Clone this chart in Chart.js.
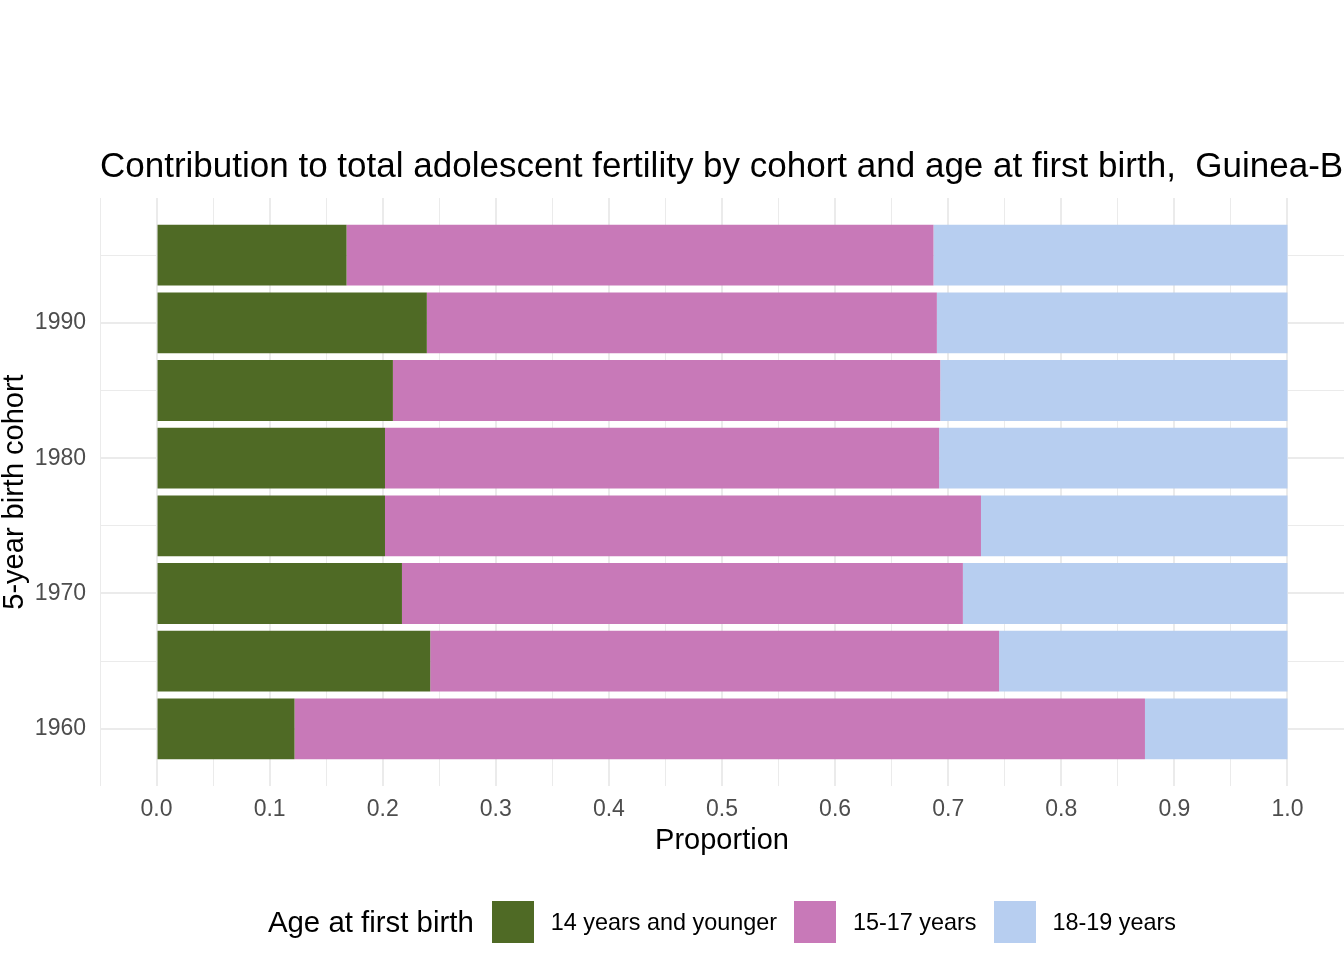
<!DOCTYPE html>
<html>
<head>
<meta charset="utf-8">
<title>Adolescent fertility by cohort</title>
<script src="https://cdn.jsdelivr.net/npm/chart.js@4.4.0/dist/chart.umd.min.js"></script>
<style>
  body { margin: 0; background: #fff; font-family: "Liberation Sans", Arial, sans-serif; }
  #wrap { position: relative; width: 1344px; height: 960px; overflow: hidden; }
  #chart { display: block; }
  #legend { position: absolute; left: 100px; width: 1244px; top: 901px; height: 42px;
            display: flex; justify-content: center; align-items: center; color: #000; }
  #legend .ttl { font-size: 29.4px; margin-right: 18px; }
  #legend .key { width: 42px; height: 42px; }
  #legend .lbl { font-size: 23.4px; margin: 0 17px; }
  #legend .lbl:last-child { margin-right: 0; }
</style>
</head>
<body>
<div id="wrap">
  <canvas id="chart" width="1344" height="960"></canvas>
  <div id="legend"></div>
</div>
<script>
// Data
const cohorts = [1960, 1965, 1970, 1975, 1980, 1985, 1990, 1995];
const under15 = [0.122, 0.242, 0.217, 0.202, 0.202, 0.209, 0.239, 0.168];
const age15to17 = [0.752, 0.503, 0.496, 0.527, 0.490, 0.484, 0.451, 0.519];
const age18to19 = [0.126, 0.255, 0.287, 0.271, 0.308, 0.307, 0.310, 0.313];
const seriesNames = ['14 years and younger', '15-17 years', '18-19 years'];
const seriesColors = ['#4F6A25', '#C879B8', '#B7CEF0'];
const xTicks = [0.0, 0.1, 0.2, 0.3, 0.4, 0.5, 0.6, 0.7, 0.8, 0.9, 1.0];

const titleText = 'Contribution to total adolescent fertility by cohort and age at first birth,  Guinea-Bissau';
const fontFamily = '"Liberation Sans", Arial, sans-serif';
const gridColor = '#EBEBEB';

// ggplot-like continuous y range: bar width 4.5 plus 5% expansion
const yLo = cohorts[0] - 2.25;
const yHi = cohorts[cohorts.length - 1] + 2.25;
const yPad = (yHi - yLo) * 0.05;

const isMajorX = v => xTicks.some(t => Math.abs(t - v) < 1e-9);

const titlePlugin = {
    id: 'leftTitle',
    afterDraw(chart) {
        const ctx = chart.ctx;
        ctx.save();
        ctx.font = '35px ' + fontFamily;
        ctx.fillStyle = '#000';
        ctx.textAlign = 'left';
        ctx.textBaseline = 'alphabetic';
        ctx.fillText(titleText, chart.chartArea.left, 177);
        ctx.restore();
    }
};

const datasets = [under15, age15to17, age18to19].map((vals, i) => ({
    label: seriesNames[i],
    data: vals,
    backgroundColor: seriesColors[i],
    borderWidth: 0,
    categoryPercentage: 0.9,
    barPercentage: 1.0,
}));

new Chart(document.getElementById('chart').getContext('2d'), {
    type: 'bar',
    data: { labels: cohorts, datasets: datasets },
    options: {
        indexAxis: 'y',
        responsive: false,
        animation: false,
        layout: { padding: { top: 198, right: 0, bottom: 105, left: 0 } },
        plugins: {
            legend: { display: false },
            tooltip: { enabled: false },
            title: { display: false }
        },
        scales: {
            x: {
                type: 'linear',
                stacked: true,
                min: -0.05,
                max: 1.05,
                afterBuildTicks: scale => {
                    const t = [];
                    for (let i = 0; i <= 22; i++) t.push({ value: Math.round((-0.05 + i * 0.05) * 100) / 100 });
                    scale.ticks = t;
                },
                afterFit: scale => { scale.height = 69; },
                grid: {
                    color: gridColor,
                    lineWidth: c => (c.tick && isMajorX(c.tick.value)) ? 2 : 1,
                    drawTicks: true,
                    tickLength: 10,
                    tickColor: 'rgba(0,0,0,0)'
                },
                border: { display: false },
                ticks: {
                    autoSkip: false,
                    maxRotation: 0,
                    padding: 0,
                    color: '#4D4D4D',
                    font: { family: fontFamily, size: 23 },
                    callback: v => isMajorX(v) ? Number(v).toFixed(1) : ''
                },
                title: {
                    display: true,
                    text: 'Proportion',
                    color: '#000',
                    font: { family: fontFamily, size: 29, lineHeight: 1 },
                    padding: 0
                }
            },
            y: {
                type: 'linear',
                stacked: true,
                offset: false,
                min: yLo - yPad,
                max: yHi + yPad,
                afterBuildTicks: scale => {
                    scale.ticks = cohorts.map(c => ({ value: c }));
                },
                afterFit: scale => { scale.width = 100; },
                grid: {
                    offset: false,
                    color: gridColor,
                    lineWidth: c => (c.tick && c.tick.value % 10 === 0) ? 2 : 1,
                    drawTicks: true,
                    tickLength: 14,
                    tickColor: 'rgba(0,0,0,0)'
                },
                border: { display: false },
                ticks: {
                    autoSkip: false,
                    padding: 0,
                    color: '#4D4D4D',
                    font: { family: fontFamily, size: 23 },
                    callback: v => (v % 10 === 0) ? String(v) : ''
                },
                title: {
                    display: true,
                    text: '5-year birth cohort',
                    color: '#000',
                    font: { family: fontFamily, size: 29, lineHeight: 1 },
                    padding: 0
                }
            }
        }
    },
    plugins: [titlePlugin]
});

// Legend in ggplot style: title on the left, keys in a row
const legend = document.getElementById('legend');
const lt = document.createElement('span');
lt.className = 'ttl';
lt.textContent = 'Age at first birth';
legend.appendChild(lt);
seriesNames.forEach((name, i) => {
    const key = document.createElement('div');
    key.className = 'key';
    key.style.background = seriesColors[i];
    legend.appendChild(key);
    const lbl = document.createElement('span');
    lbl.className = 'lbl';
    lbl.textContent = name;
    legend.appendChild(lbl);
});
</script>
</body>
</html>
